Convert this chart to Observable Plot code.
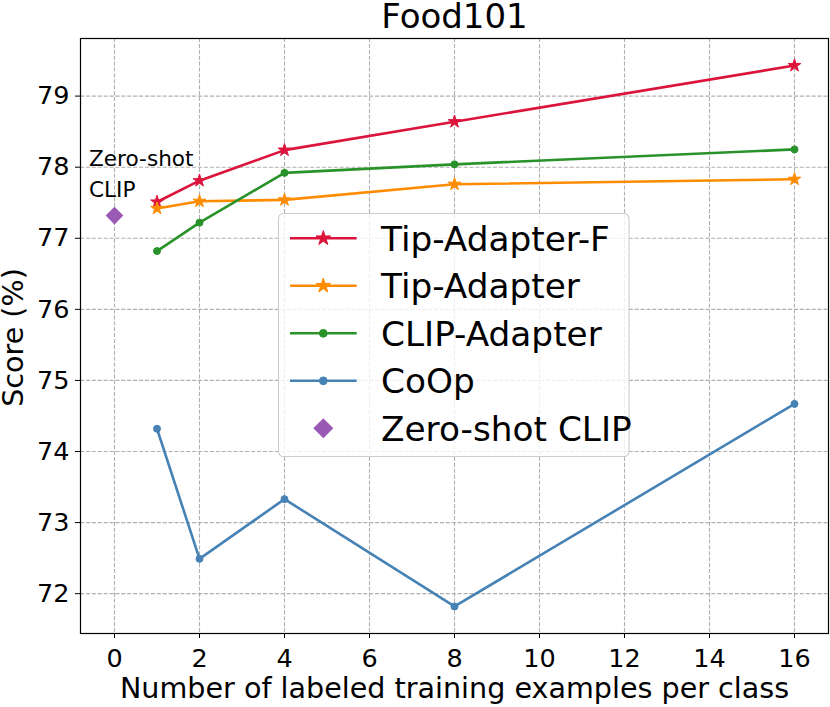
<!DOCTYPE html>
<html><head><meta charset="utf-8">
<script src="https://cdn.jsdelivr.net/npm/d3@7"></script>
<script src="https://cdn.jsdelivr.net/npm/@observablehq/plot@0.6"></script>
<style>body{margin:0;background:#fff} svg{display:block}</style>
</head><body><div id="chart"></div>
<script>
// ---- data ----
const shots = [1, 2, 4, 8, 16];
const tipAdapterF = [77.51, 77.81, 78.24, 78.64, 79.43];
const tipAdapter = [77.42, 77.52, 77.54, 77.76, 77.83];
const clipAdapter = [76.82, 77.22, 77.92, 78.04, 78.25];
const coop = [74.32, 72.49, 73.33, 71.82, 74.67];
const zeroShotShots = [0];
const zeroShotScore = [77.32];
const xTicks = [0, 2, 4, 6, 8, 10, 12, 14, 16];
const yTicks = [72, 73, 74, 75, 76, 77, 78, 79];
const seriesNames = ["Tip-Adapter-F", "Tip-Adapter", "CLIP-Adapter", "CoOp"];
const zeroShotName = "Zero-shot CLIP";

// ---- styles ----
const styles = {
  "Tip-Adapter-F": {color: "#dc143c", symbol: "star", r: 4.0, lr: 4.6},
  "Tip-Adapter": {color: "#ff8c00", symbol: "star", r: 4.0, lr: 4.6},
  "CLIP-Adapter": {color: "#2a922a", symbol: "circle", r: 3.5, lr: 3.9},
  "CoOp": {color: "#4682b4", symbol: "circle", r: 3.5, lr: 3.9}
};
const zeroStyle = {color: "#9b59b6", symbol: "diamond2", r: 8, lr: 9};

const seriesValues = [tipAdapterF, tipAdapter, clipAdapter, coop];
const rows = seriesNames.map((name, i) => shots.map((s, j) => ({series: name, x: s, y: seriesValues[i][j]})));
const zeroRows = zeroShotShots.map((s, i) => ({x: s, y: zeroShotScore[i]}));

const allY = rows.flat().map(d => d.y).concat(zeroShotScore);
const allX = rows.flat().map(d => d.x).concat(zeroShotShots);
const pad = (lo, hi) => [lo - (hi - lo) * 0.05, hi + (hi - lo) * 0.05];
const xDomain = pad(d3.min(allX), d3.max(allX));
const yDomain = pad(d3.min(allY), d3.max(allY));

const FONT = "DejaVu Sans";
const gridOpts = {stroke: "#b0b0b0", strokeOpacity: 1, strokeWidth: 1.1, strokeDasharray: "4.1,1.8"};
const intFmt = d3.format("d");

const marks = [
  Plot.gridX(xTicks, gridOpts),
  Plot.gridY(yTicks, gridOpts),
  Plot.axisX(xTicks, {tickSize: 5, tickPadding: 10, fontSize: 25.5, label: null, stroke: "black", fill: "black", tickFormat: intFmt}),
  Plot.axisY(yTicks, {tickSize: 5, tickPadding: 6, fontSize: 25.5, label: null, stroke: "black", fill: "black", tickFormat: intFmt})
];
rows.forEach((data, i) => {
  const st = styles[seriesNames[i]];
  marks.push(Plot.line(data, {x: "x", y: "y", stroke: st.color, strokeWidth: 2.6}));
  marks.push(Plot.dot(data, {x: "x", y: "y", symbol: () => st.symbol, r: st.r, fill: st.color, stroke: st.color, strokeWidth: 1}));
});
marks.push(Plot.dot(zeroRows, {x: "x", y: "y", symbol: () => zeroStyle.symbol, r: zeroStyle.r, fill: zeroStyle.color, stroke: "none"}));
marks.push(Plot.text(zeroRows, {x: "x", y: "y", text: () => "Zero-shot", dx: -25.5, dy: -56.5, textAnchor: "start", lineAnchor: "middle", fontSize: 21.6, fill: "black"}));
marks.push(Plot.text(zeroRows, {x: "x", y: "y", text: () => "CLIP", dx: -25.5, dy: -25.7, textAnchor: "start", lineAnchor: "middle", fontSize: 21.6, fill: "black"}));
marks.push(Plot.frame({stroke: "black", strokeWidth: 1.2}));
marks.push(Plot.text(["Food101"], {text: d => d, frameAnchor: "top", dy: -21.5, textAnchor: "middle", lineAnchor: "middle", fontSize: 34, fill: "black"}));
marks.push(Plot.text(["Number of labeled training examples per class"], {text: d => d, frameAnchor: "bottom", dy: 55, textAnchor: "middle", lineAnchor: "middle", fontSize: 28.6, fill: "black"}));
marks.push(Plot.text(["Score (%)"], {text: d => d, frameAnchor: "left", dx: -67, dy: 1.5, rotate: -90, textAnchor: "middle", lineAnchor: "middle", fontSize: 28.6, fill: "black"}));

const chart = Plot.plot({
  width: 830, height: 707,
  marginLeft: 80, marginTop: 38, marginRight: 2, marginBottom: 74,
  style: {fontFamily: FONT, fontSize: "25px", background: "white", color: "black"},
  x: {domain: xDomain},
  y: {domain: yDomain},
  marks
});
document.getElementById("chart").appendChild(chart);

// ---- legend (inside axes, like matplotlib) ----
const svg = d3.select(chart);
const lg = svg.append("g").attr("font-family", FONT).attr("text-anchor", "start");
const box = {x: 278.5, y: 213.5, w: 350.5, h: 243};
lg.append("rect").attr("x", box.x).attr("y", box.y).attr("width", box.w).attr("height", box.h)
  .attr("rx", 5).attr("fill", "white").attr("fill-opacity", 0.8).attr("stroke", "#cccccc").attr("stroke-width", 1.1);
const entries = seriesNames.map(n => ({name: n, ...styles[n], line: true}))
  .concat([{name: zeroShotName, ...zeroStyle, line: false}]);
entries.forEach((e, i) => {
  const cy = 238.3 + i * 47.5;
  if (e.line) lg.append("line").attr("x1", 290).attr("x2", 356.7).attr("y1", cy).attr("y2", cy)
    .attr("stroke", e.color).attr("stroke-width", 2.6);
  const sym = {star: d3.symbolStar, circle: d3.symbolCircle, diamond2: d3.symbolDiamond2}[e.symbol];
  lg.append("path").attr("d", d3.symbol(sym, Math.PI * e.lr * e.lr)())
    .attr("transform", `translate(323.3,${cy})`).attr("fill", e.color)
    .attr("stroke", e.line ? e.color : "none").attr("stroke-width", 1);
  lg.append("text").attr("x", 381).attr("y", cy).attr("dy", "0.36em").attr("font-size", 34.3)
    .attr("text-anchor", "start").attr("fill", "black").text(e.name);
});
</script>
</body></html>
